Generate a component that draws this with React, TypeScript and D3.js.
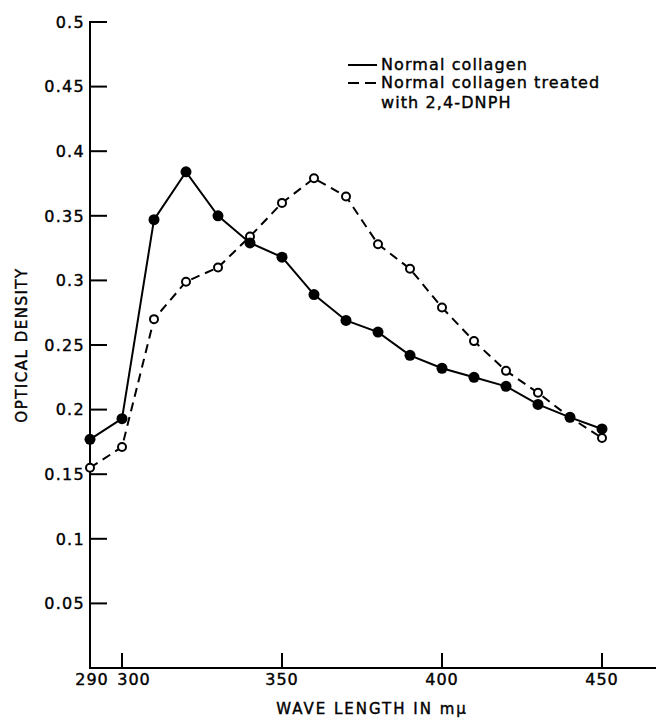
import * as d3 from "d3";
import React, { useEffect, useRef } from "react";

const wavelengths = [290, 300, 310, 320, 330, 340, 350, 360, 370, 380, 390, 400, 410, 420, 430, 440, 450];
const normalCollagen = [0.177, 0.193, 0.347, 0.384, 0.35, 0.329, 0.318, 0.289, 0.269, 0.26, 0.242, 0.232, 0.225, 0.218, 0.204, 0.194, 0.185];
const treatedCollagen = [0.155, 0.171, 0.27, 0.299, 0.31, 0.334, 0.36, 0.379, 0.365, 0.328, 0.309, 0.279, 0.253, 0.23, 0.213, 0.194, 0.178];
const yTicks = [0.05, 0.1, 0.15, 0.2, 0.25, 0.3, 0.35, 0.4, 0.45, 0.5];
const xTicks = [290, 300, 350, 400, 450];
const legendLabels = ["Normal collagen", "Normal collagen treated", "with 2,4-DNPH"];

const width = 661;
const height = 725;
const font = "DejaVu Sans, sans-serif";

export default function App() {
  const ref = useRef<SVGSVGElement>(null);

  useEffect(() => {
    const svg = d3.select(ref.current);
    svg.selectAll("*").remove();

    const x = d3.scaleLinear([290, 450], [90, 602]);
    const y = d3.scaleLinear([0, 0.5], [668, 22]);

    // ejes
    svg.append("line").attr("x1", 90).attr("x2", 90).attr("y1", 21).attr("y2", 668)
      .attr("stroke", "black").attr("stroke-width", 2);
    svg.append("line").attr("x1", 89).attr("x2", 656).attr("y1", 668).attr("y2", 668)
      .attr("stroke", "black").attr("stroke-width", 2);

    const yg = svg.append("g");
    yg.selectAll("line").data(yTicks).join("line")
      .attr("x1", 90).attr("x2", 107)
      .attr("y1", (d) => y(d)).attr("y2", (d) => y(d))
      .attr("stroke", "black").attr("stroke-width", 2);
    yg.selectAll("text").data(yTicks).join("text")
      .attr("x", 85).attr("y", (d) => y(d)).attr("dy", "0.36em")
      .attr("text-anchor", "end")
      .attr("font-family", font).attr("font-size", 16).attr("letter-spacing", 1.3)
      .attr("stroke", "black").attr("stroke-width", 0.4)
      .text((d) => String(d));

    const xg = svg.append("g");
    xg.selectAll("line").data(xTicks.filter((d) => d !== 290)).join("line")
      .attr("x1", (d) => x(d)).attr("x2", (d) => x(d))
      .attr("y1", 653).attr("y2", 668)
      .attr("stroke", "black").attr("stroke-width", 2);
    xg.selectAll("text").data(xTicks).join("text")
      .attr("x", (d) => x(d) + (d === 300 ? 12 : d === 290 ? 2 : 0)).attr("y", 685)
      .attr("text-anchor", "middle")
      .attr("font-family", font).attr("font-size", 16).attr("letter-spacing", 1)
      .attr("stroke", "black").attr("stroke-width", 0.4)
      .text((d) => String(d));

    svg.append("text")
      .attr("x", 372).attr("y", 714).attr("text-anchor", "middle")
      .attr("font-family", font).attr("font-size", 15).attr("letter-spacing", 2)
      .attr("stroke", "black").attr("stroke-width", 0.4)
      .text("WAVE LENGTH IN mμ");

    svg.append("text")
      .attr("transform", "translate(27,345) rotate(-90)").attr("text-anchor", "middle")
      .attr("font-family", font).attr("font-size", 15).attr("letter-spacing", 1.5)
      .attr("stroke", "black").attr("stroke-width", 0.4)
      .text("OPTICAL DENSITY");

    const line = d3.line<number>().x((_, i) => x(wavelengths[i])).y((d) => y(d));

    svg.append("path").attr("d", line(treatedCollagen)).attr("fill", "none")
      .attr("stroke", "black").attr("stroke-width", 2).attr("stroke-dasharray", "9,6");
    svg.append("path").attr("d", line(normalCollagen)).attr("fill", "none")
      .attr("stroke", "black").attr("stroke-width", 2);

    svg.append("g").selectAll("circle").data(treatedCollagen).join("circle")
      .attr("cx", (_, i) => x(wavelengths[i])).attr("cy", (d) => y(d)).attr("r", 4)
      .attr("fill", "white").attr("stroke", "black").attr("stroke-width", 2);
    svg.append("g").selectAll("circle").data(normalCollagen).join("circle")
      .attr("cx", (_, i) => x(wavelengths[i])).attr("cy", (d) => y(d)).attr("r", 5.5)
      .attr("fill", "black");

    // leyenda
    const lg = svg.append("g");
    lg.append("line").attr("x1", 348).attr("x2", 377).attr("y1", 65).attr("y2", 65)
      .attr("stroke", "black").attr("stroke-width", 2);
    lg.append("line").attr("x1", 348).attr("x2", 377).attr("y1", 83).attr("y2", 83)
      .attr("stroke", "black").attr("stroke-width", 2).attr("stroke-dasharray", "11,6");
    lg.selectAll("text").data(legendLabels).join("text")
      .attr("x", 381).attr("y", (_, i) => [70, 88, 108][i])
      .attr("font-family", font).attr("font-size", 16).attr("letter-spacing", 1.1)
      .attr("stroke", "black").attr("stroke-width", 0.4)
      .text((d) => d);
  }, []);

  return (
    <svg ref={ref} width={width} height={height}
      style={{ position: "absolute", left: 0, top: 0, background: "white" }} />
  );
}
